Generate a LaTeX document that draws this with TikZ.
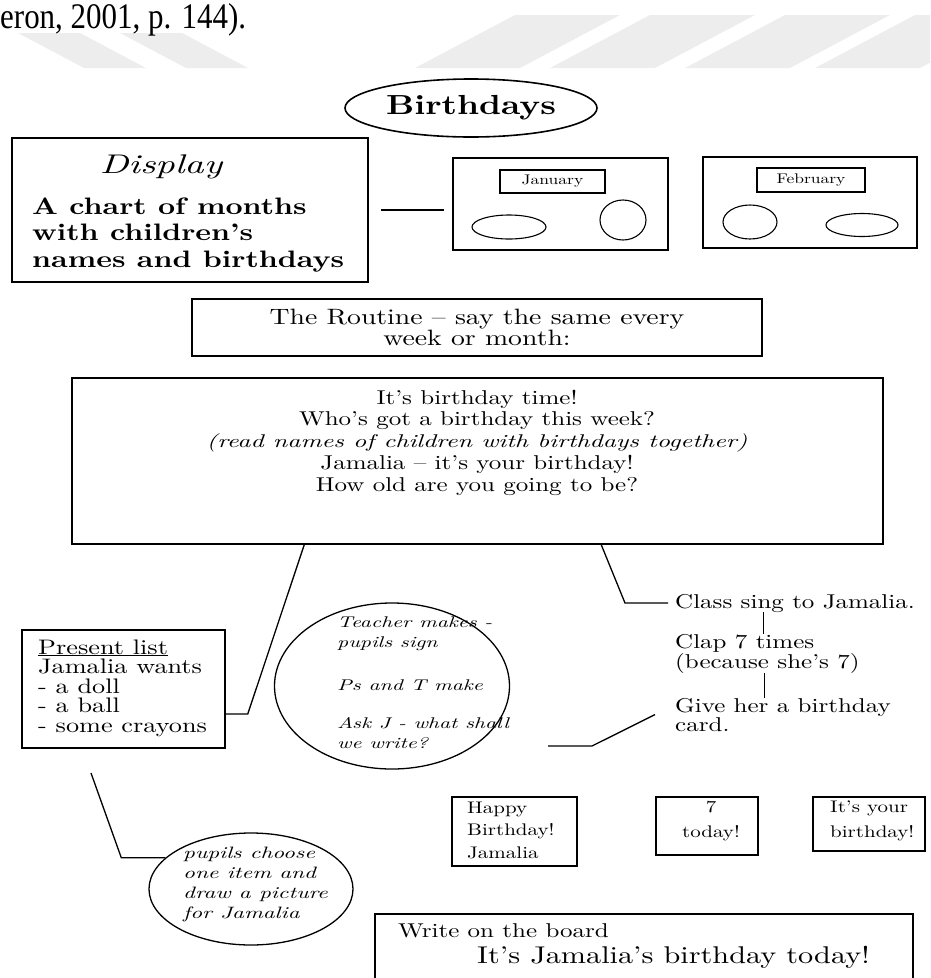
\documentclass[tikz,border=0pt]{standalone}
\usepackage{fontspec}
\setmainfont{lmroman10-regular.otf}[
  BoldFont=lmroman10-bold.otf,
  ItalicFont=lmroman10-italic.otf,
  FakeStretch=1.25]
\newfontfamily\handit{lmroman10-italic.otf}[FakeStretch=1.4]
\newfontfamily\citefont{Liberation Serif}[FakeStretch=0.86]
\usetikzlibrary{shapes.geometric}

\begin{document}
\begin{tikzpicture}[x=1pt,y=-1pt,
    box/.style={draw,line width=1.5pt,inner sep=0pt},
    oval/.style={draw,ellipse,line width=1.3pt,inner sep=0pt},
    link/.style={line width=1.3pt},
    txt/.style={inner sep=0pt,align=left}]
  \useasboundingbox (0,0) rectangle (930,978);
  \clip (0,0) rectangle (930,978);
  % watermark stripes
  \foreach \x in {415,550,685,815}
    \fill[black!7] (\x,68) -- ++(105,0) -- ++(100,-53) -- ++(-105,0) -- cycle;
  \foreach \x in {18,120}
    \fill[black!7] (\x,33) -- ++(62,0) -- ++(66,35) -- ++(-62,0) -- cycle;
  \node[anchor=base west,inner sep=0pt,font=\citefont\fontsize{36}{36}\selectfont] (cite) at (0,28) {eron, 2001, p. 144).};

  % title
  \node[oval,line width=1.6pt,minimum width=252pt,minimum height=58pt,font=\bfseries\fontsize{27.6}{30}\selectfont] (title) at (471,108) {Birthdays};

  % display and the month chart
  \node[box,minimum width=356pt,minimum height=144pt] (display) at (190,210) {};
  \node[txt,anchor=base,font=\handit\fontsize{27}{30}\selectfont] (disphead) at (161,173) {Display};
  \node[txt,anchor=base west,font=\bfseries\fontsize{23.8}{26.5}\selectfont] (disptxt) at (32,267) {A chart of months\\with children’s\\names and birthdays};

  \node[box,minimum width=215pt,minimum height=92pt] (jan) at (560.5,204) {};
  \node[box,line width=1.1pt,minimum width=105pt,minimum height=23pt,font=\fontsize{14}{14}\selectfont] (janlbl) at (552.5,181.5) {January};
  \node[oval,line width=1.1pt,minimum width=74pt,minimum height=24pt] (janova) at (509,227) {};
  \node[oval,line width=1.1pt,minimum width=46pt,minimum height=40pt] (jancirc) at (623,220) {};

  \node[box,minimum width=214pt,minimum height=91pt] (feb) at (810,202.5) {};
  \node[box,line width=1.1pt,minimum width=108pt,minimum height=24pt,font=\fontsize{14}{14}\selectfont] (feblbl) at (811,180) {February};
  \node[oval,line width=1.1pt,minimum width=54pt,minimum height=34pt] (febcirc) at (750,222) {};
  \node[oval,line width=1.1pt,minimum width=72pt,minimum height=23pt] (febova) at (862,225) {};

  \draw[link,shorten <=12pt,shorten >=8pt] (display.east) -- (display.east -| jan.west);

  % routine
  \node[box,minimum width=570pt,minimum height=57pt,align=center,font=\fontsize{22.2}{21}\selectfont] (routine) at (477,327.5) {The Routine – say the same every\\week or month:};

  \node[box,minimum width=811pt,minimum height=166pt] (main) at (477.5,461) {};
  \node[txt,align=center,anchor=base,font=\fontsize{20}{22}\selectfont] (maintxt) at (477,491) {It’s birthday time!\\[-1pt]
    Who’s got a birthday this week?\\
    {\handit\fontsize{18.4}{22}\selectfont (read names of children with birthdays together)}\\
    Jamalia – it’s your birthday!\\
    How old are you going to be?};

  % present list
  \node[box,minimum width=203pt,minimum height=118pt] (plist) at (123.5,689) {};
  \node[txt,anchor=base west,font=\fontsize{21}{19.5}\selectfont] (plisttxt) at (38,732) {\underline{Present list}\\Jamalia wants\\- a doll\\- a ball\\- some crayons};
  \draw[link] ([yshift=-25pt]plist.east) -- ++(22,0) -- ([xshift=233pt]main.south west);

  % teacher makes
  \node[oval,minimum width=235pt,minimum height=166pt] (teach) at (392,686) {};
  \node[txt,anchor=base west,font=\handit\fontsize{15.5}{20}\selectfont] (teachtxt) at (337,748) {Teacher makes -\\pupils sign\\[23pt]Ps and T make\\[18pt]Ask J - what shall\\we write?};

  % class sing
  \node[txt,anchor=base west,font=\fontsize{20}{20}\selectfont] (sing) at (675,608) {Class sing to Jamalia.};
  \node[txt,anchor=base west,font=\fontsize{20}{20}\selectfont] (clap) at (675,668) {Clap 7 times\\(because she’s 7)};
  \node[txt,anchor=base west,font=\fontsize{20}{19}\selectfont] (card) at (675,731) {Give her a birthday\\card.};
  \draw[link] ([xshift=530pt]main.south west) -- ([xshift=-50pt]sing.west) -- ([xshift=-7pt]sing.west);
  \draw[link,line width=1pt] ([xshift=88pt]sing.south west) -- ([xshift=88pt]clap.north west);
  \draw[link,line width=1pt] ([xshift=89pt]clap.south west) -- ([xshift=89pt]card.north west);
  \coordinate (cardtail) at (548,746);
  \draw[link] (cardtail) -- ++(44,0) -- ([xshift=-20pt]card.west);

  % pupils choose
  \node[oval,minimum width=204pt,minimum height=112pt] (pupils) at (251,889) {};
  \node[txt,anchor=base west,font=\handit\fontsize{16.5}{20}\selectfont] (pupilstxt) at (183,918) {pupils choose\\one item and\\draw a picture\\for Jamalia};
  \coordinate (pltail) at (91,773);
  \draw[link] (pltail) -- ([xshift=-44pt]pupils.160) -- (pupils.160);

  % cards
  \node[box,line width=1.2pt,minimum width=125pt,minimum height=69pt] (happy) at (514.5,831.5) {};
  \node[txt,anchor=base west,font=\fontsize{16.8}{22.5}\selectfont] (happytxt) at (467,858) {Happy\\Birthday!\\Jamalia};
  \node[box,line width=1.2pt,minimum width=102pt,minimum height=58pt] (seven) at (707,826) {};
  \node[txt,align=center,anchor=base,font=\fontsize{16.8}{25}\selectfont] (seventxt) at (711,837) {7\\today!};
  \node[box,line width=1.2pt,minimum width=112pt,minimum height=54pt] (yours) at (869,824) {};
  \node[txt,anchor=base west,font=\fontsize{16.8}{25}\selectfont] (yourstxt) at (830,837) {It’s your\\birthday!};

  % board
  \node[box,minimum width=538pt,minimum height=90pt] (board) at (644,959) {};
  \node[txt,anchor=base west,font=\fontsize{20}{20}\selectfont] (boardhead) at (398,937) {Write on the board};
  \node[txt,anchor=base west,font=\fontsize{24.2}{24}\selectfont] (boardtxt) at (477,963) {It’s Jamalia’s birthday today!};
\end{tikzpicture}
\end{document}
